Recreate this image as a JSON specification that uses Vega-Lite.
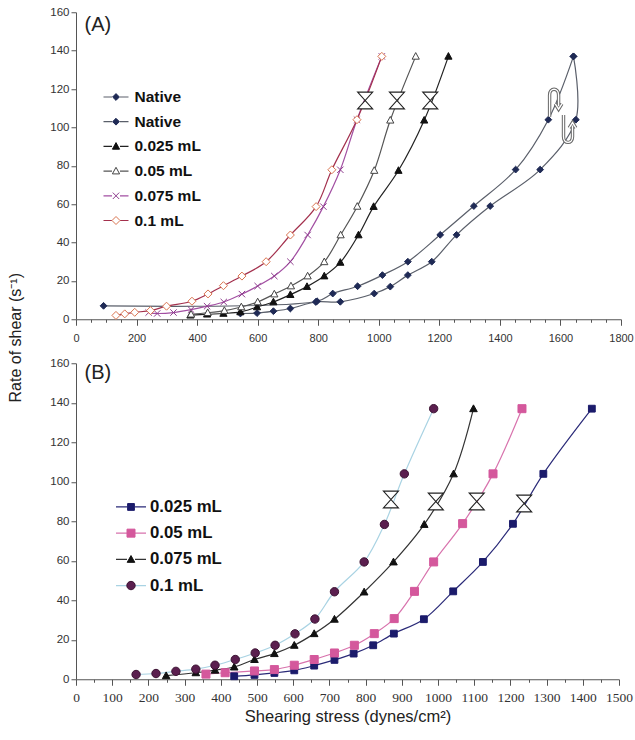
{
  "$schema": "https://vega.github.io/schema/vega-lite/v6.json",
  "autosize": {"type": "pad"},
  "padding": {"left": 7, "top": 6.25, "right": 0, "bottom": 0},
  "background": "white",
  "config": {
    "view": {"stroke": null},
    "font": "Liberation Sans",
    "axis": {"grid": false, "domainColor": "#555555", "tickColor": "#555555", "labelColor": "#333333", "labelFont": "Liberation Sans", "labelFontSize": 11.5, "titleFont": "Liberation Sans", "titleFontWeight": "normal", "titleColor": "#222222", "domainWidth": 1, "tickWidth": 1},
    "legend": {"padding": 0, "title": null},
    "title": {"font": "Liberation Sans", "fontWeight": "normal", "fontSize": 20, "color": "#222222", "anchor": "start", "frame": "group"}
  },
  "datasets": {
    "a": [
      {"s": "Native", "i": 1, "x": 91, "y": 7},
      {"s": "Native", "i": 2, "x": 796, "y": 9.4},
      {"s": "Native", "i": 3, "x": 848, "y": 13.4},
      {"s": "Native", "i": 4, "x": 930, "y": 17.2},
      {"s": "Native", "i": 5, "x": 1012, "y": 23},
      {"s": "Native", "i": 6, "x": 1096, "y": 30},
      {"s": "Native", "i": 7, "x": 1203, "y": 44},
      {"s": "Native", "i": 8, "x": 1314, "y": 59},
      {"s": "Native", "i": 9, "x": 1452, "y": 78},
      {"s": "Native", "i": 10, "x": 1560, "y": 104},
      {"s": "Native", "i": 11, "x": 1643, "y": 137},
      {"s": "Native 2", "i": 1, "x": 543, "y": 3},
      {"s": "Native 2", "i": 2, "x": 598, "y": 3.2},
      {"s": "Native 2", "i": 3, "x": 652, "y": 4.2},
      {"s": "Native 2", "i": 4, "x": 708, "y": 5.6},
      {"s": "Native 2", "i": 5, "x": 792, "y": 9},
      {"s": "Native 2", "i": 6, "x": 873, "y": 9.1},
      {"s": "Native 2", "i": 7, "x": 985, "y": 13.4},
      {"s": "Native 2", "i": 8, "x": 1038, "y": 17},
      {"s": "Native 2", "i": 9, "x": 1096, "y": 23},
      {"s": "Native 2", "i": 10, "x": 1175, "y": 30},
      {"s": "Native 2", "i": 11, "x": 1257, "y": 44},
      {"s": "Native 2", "i": 12, "x": 1368, "y": 59},
      {"s": "Native 2", "i": 13, "x": 1533, "y": 78},
      {"s": "Native 2", "i": 14, "x": 1651, "y": 104},
      {"s": "Native 2", "i": 15, "x": 1643, "y": 137},
      {"s": "0.025 mL", "i": 1, "x": 378, "y": 2.1},
      {"s": "0.025 mL", "i": 2, "x": 433, "y": 2.6},
      {"s": "0.025 mL", "i": 3, "x": 487, "y": 3.0},
      {"s": "0.025 mL", "i": 4, "x": 543, "y": 3.8},
      {"s": "0.025 mL", "i": 5, "x": 598, "y": 6.4},
      {"s": "0.025 mL", "i": 6, "x": 652, "y": 9},
      {"s": "0.025 mL", "i": 7, "x": 708, "y": 12.8},
      {"s": "0.025 mL", "i": 8, "x": 763, "y": 17},
      {"s": "0.025 mL", "i": 9, "x": 820, "y": 22.5},
      {"s": "0.025 mL", "i": 10, "x": 873, "y": 29.6},
      {"s": "0.025 mL", "i": 11, "x": 933, "y": 43.9},
      {"s": "0.025 mL", "i": 12, "x": 983, "y": 58.7},
      {"s": "0.025 mL", "i": 13, "x": 1065, "y": 77.5},
      {"s": "0.025 mL", "i": 14, "x": 1150, "y": 103.7},
      {"s": "0.025 mL", "i": 15, "x": 1230, "y": 137},
      {"s": "0.05 mL", "i": 1, "x": 380, "y": 2.6},
      {"s": "0.05 mL", "i": 2, "x": 435, "y": 3.4},
      {"s": "0.05 mL", "i": 3, "x": 490, "y": 4.5},
      {"s": "0.05 mL", "i": 4, "x": 546, "y": 6.4},
      {"s": "0.05 mL", "i": 5, "x": 600, "y": 9},
      {"s": "0.05 mL", "i": 6, "x": 655, "y": 13.1},
      {"s": "0.05 mL", "i": 7, "x": 710, "y": 17.3},
      {"s": "0.05 mL", "i": 8, "x": 765, "y": 22.5},
      {"s": "0.05 mL", "i": 9, "x": 820, "y": 29.9},
      {"s": "0.05 mL", "i": 10, "x": 874, "y": 43.9},
      {"s": "0.05 mL", "i": 11, "x": 929, "y": 58.8},
      {"s": "0.05 mL", "i": 12, "x": 985, "y": 77.5},
      {"s": "0.05 mL", "i": 13, "x": 1038, "y": 103.7},
      {"s": "0.05 mL", "i": 14, "x": 1122, "y": 137},
      {"s": "0.075 mL", "i": 1, "x": 240, "y": 3.5},
      {"s": "0.075 mL", "i": 2, "x": 268, "y": 3.0},
      {"s": "0.075 mL", "i": 3, "x": 322, "y": 3.5},
      {"s": "0.075 mL", "i": 4, "x": 380, "y": 5},
      {"s": "0.075 mL", "i": 5, "x": 433, "y": 6.8},
      {"s": "0.075 mL", "i": 6, "x": 488, "y": 9},
      {"s": "0.075 mL", "i": 7, "x": 548, "y": 13.1},
      {"s": "0.075 mL", "i": 8, "x": 600, "y": 17.3},
      {"s": "0.075 mL", "i": 9, "x": 655, "y": 22.5},
      {"s": "0.075 mL", "i": 10, "x": 708, "y": 30},
      {"s": "0.075 mL", "i": 11, "x": 765, "y": 43.9},
      {"s": "0.075 mL", "i": 12, "x": 817, "y": 58.7},
      {"s": "0.075 mL", "i": 13, "x": 873, "y": 77.9},
      {"s": "0.075 mL", "i": 14, "x": 928, "y": 104},
      {"s": "0.075 mL", "i": 15, "x": 1010, "y": 137},
      {"s": "0.1 mL", "i": 1, "x": 132, "y": 2.0},
      {"s": "0.1 mL", "i": 2, "x": 161, "y": 2.8},
      {"s": "0.1 mL", "i": 3, "x": 194, "y": 3.6},
      {"s": "0.1 mL", "i": 4, "x": 246, "y": 4.5},
      {"s": "0.1 mL", "i": 5, "x": 299, "y": 6.8},
      {"s": "0.1 mL", "i": 6, "x": 383, "y": 9.4},
      {"s": "0.1 mL", "i": 7, "x": 436, "y": 13.2},
      {"s": "0.1 mL", "i": 8, "x": 487, "y": 17.5},
      {"s": "0.1 mL", "i": 9, "x": 548, "y": 22.5},
      {"s": "0.1 mL", "i": 10, "x": 628, "y": 30},
      {"s": "0.1 mL", "i": 11, "x": 708, "y": 43.9},
      {"s": "0.1 mL", "i": 12, "x": 793, "y": 58.7},
      {"s": "0.1 mL", "i": 13, "x": 845, "y": 77.9},
      {"s": "0.1 mL", "i": 14, "x": 928, "y": 104},
      {"s": "0.1 mL", "i": 15, "x": 1010, "y": 137}
    ],
    "b": [
      {"s": "0.025 mL", "i": 1, "x": 437, "y": 1.5},
      {"s": "0.025 mL", "i": 2, "x": 493, "y": 2.2},
      {"s": "0.025 mL", "i": 3, "x": 548, "y": 3.2},
      {"s": "0.025 mL", "i": 4, "x": 603, "y": 4.5},
      {"s": "0.025 mL", "i": 5, "x": 658, "y": 6.9},
      {"s": "0.025 mL", "i": 6, "x": 714, "y": 9.8},
      {"s": "0.025 mL", "i": 7, "x": 767, "y": 13},
      {"s": "0.025 mL", "i": 8, "x": 821, "y": 17.2},
      {"s": "0.025 mL", "i": 9, "x": 878, "y": 23.1},
      {"s": "0.025 mL", "i": 10, "x": 961, "y": 30.4},
      {"s": "0.025 mL", "i": 11, "x": 1042, "y": 44.5},
      {"s": "0.025 mL", "i": 12, "x": 1124, "y": 59.4},
      {"s": "0.025 mL", "i": 13, "x": 1207, "y": 78.7},
      {"s": "0.025 mL", "i": 14, "x": 1291, "y": 104},
      {"s": "0.025 mL", "i": 15, "x": 1425, "y": 137},
      {"s": "0.05 mL", "i": 1, "x": 359, "y": 2.6},
      {"s": "0.05 mL", "i": 2, "x": 412, "y": 3.3},
      {"s": "0.05 mL", "i": 3, "x": 493, "y": 4.2},
      {"s": "0.05 mL", "i": 4, "x": 548, "y": 4.9},
      {"s": "0.05 mL", "i": 5, "x": 603, "y": 7.1},
      {"s": "0.05 mL", "i": 6, "x": 658, "y": 10},
      {"s": "0.05 mL", "i": 7, "x": 714, "y": 13.3},
      {"s": "0.05 mL", "i": 8, "x": 769, "y": 17.2},
      {"s": "0.05 mL", "i": 9, "x": 824, "y": 23.1},
      {"s": "0.05 mL", "i": 10, "x": 879, "y": 30.7},
      {"s": "0.05 mL", "i": 11, "x": 935, "y": 44.5},
      {"s": "0.05 mL", "i": 12, "x": 988, "y": 59.4},
      {"s": "0.05 mL", "i": 13, "x": 1068, "y": 78.8},
      {"s": "0.05 mL", "i": 14, "x": 1152, "y": 104},
      {"s": "0.05 mL", "i": 15, "x": 1232, "y": 137},
      {"s": "0.075 mL", "i": 1, "x": 249, "y": 1.8},
      {"s": "0.075 mL", "i": 2, "x": 331, "y": 3.3},
      {"s": "0.075 mL", "i": 3, "x": 384, "y": 4.6},
      {"s": "0.075 mL", "i": 4, "x": 437, "y": 6.2},
      {"s": "0.075 mL", "i": 5, "x": 493, "y": 10},
      {"s": "0.075 mL", "i": 6, "x": 548, "y": 13},
      {"s": "0.075 mL", "i": 7, "x": 603, "y": 17.2},
      {"s": "0.075 mL", "i": 8, "x": 658, "y": 23.1},
      {"s": "0.075 mL", "i": 9, "x": 714, "y": 30.4},
      {"s": "0.075 mL", "i": 10, "x": 796, "y": 44.2},
      {"s": "0.075 mL", "i": 11, "x": 877, "y": 59.4},
      {"s": "0.075 mL", "i": 12, "x": 962, "y": 78.4},
      {"s": "0.075 mL", "i": 13, "x": 1043, "y": 104},
      {"s": "0.075 mL", "i": 14, "x": 1098, "y": 137},
      {"s": "0.1 mL", "i": 1, "x": 166, "y": 2.4},
      {"s": "0.1 mL", "i": 2, "x": 221, "y": 2.9},
      {"s": "0.1 mL", "i": 3, "x": 276, "y": 4.0},
      {"s": "0.1 mL", "i": 4, "x": 331, "y": 5.1},
      {"s": "0.1 mL", "i": 5, "x": 384, "y": 7.1},
      {"s": "0.1 mL", "i": 6, "x": 440, "y": 10},
      {"s": "0.1 mL", "i": 7, "x": 495, "y": 13.3},
      {"s": "0.1 mL", "i": 8, "x": 550, "y": 17.2},
      {"s": "0.1 mL", "i": 9, "x": 605, "y": 23},
      {"s": "0.1 mL", "i": 10, "x": 660, "y": 30.5},
      {"s": "0.1 mL", "i": 11, "x": 714, "y": 44.3},
      {"s": "0.1 mL", "i": 12, "x": 796, "y": 59.4},
      {"s": "0.1 mL", "i": 13, "x": 852, "y": 78.4},
      {"s": "0.1 mL", "i": 14, "x": 907, "y": 104},
      {"s": "0.1 mL", "i": 15, "x": 988, "y": 137}
    ],
    "ha": [{"x": 955, "y": 114}, {"x": 1060, "y": 114}, {"x": 1170, "y": 114}],
    "hb": [{"x": 870, "y": 91}, {"x": 994, "y": 90}, {"x": 1107, "y": 90}, {"x": 1238, "y": 89}]
  },
  "spacing": 44,
  "bounds": "flush",
  "resolve": {
    "scale": {"color": "independent", "fill": "independent", "shape": "independent", "stroke": "independent"},
    "legend": {"color": "independent", "fill": "independent", "shape": "independent", "stroke": "independent"}
  },
  "vconcat": [
    {
      "width": 545,
      "height": 307,
      "title": {"text": "(A)", "offset": -29, "dx": 8.5},
      "encoding": {
        "x": {"field": "x", "type": "quantitative", "scale": {"domain": [0, 1800], "nice": false, "zero": false},
          "axis": {"title": null, "values": [0,50,100,150,200,250,300,350,400,450,500,550,600,650,700,750,800,850,900,950,1000,1050,1100,1150,1200,1250,1300,1350,1400,1450,1500,1550,1600,1650,1700,1750,1800],
            "format": "d", "labelExpr": "datum.value % 200 === 0 ? datum.label : ''", "labelOverlap": false, "labelFlush": false,
            "labelPadding": 7.5, "labelFontSize": 11,
            "tickSize": {"condition": {"test": "datum.value % 200 === 0", "value": 6}, "value": 3}}},
        "y": {"field": "y", "type": "quantitative", "scale": {"domain": [0, 160], "nice": false},
          "axis": {"values": [0,20,40,60,80,100,120,140,160], "labelOverlap": false, "tickSize": 5, "labelPadding": 2,
            "title": "Rate of shear (s⁻¹)", "titleX": -60.6, "titleY": 325, "titleAlign": "center", "titleBaseline": "middle", "titleAngle": -90, "titleFontSize": 16}}
      },
      "layer": [
        {
          "data": {"name": "a"},
          "mark": {"type": "line", "interpolate": "catmull-rom", "strokeWidth": 1.2},
          "encoding": {
            "color": {"field": "s", "type": "nominal", "sort": ["Native", "Native 2", "0.025 mL", "0.05 mL", "0.075 mL", "0.1 mL"],
              "scale": {"range": ["#5a5f6a", "#5a5f6a", "#222222", "#555555", "#a24fa2", "#a3304d"]},
              "legend": {"orient": "none", "legendX": 32.25, "legendY": 77, "labelFontSize": 15.5, "labelFontWeight": "bold", "labelFont": "Liberation Sans", "labelOpacity": 0, "labelOffset": 10.75, "rowPadding": 7.7, "symbolType": "M-2.5,0H-0.8M0.8,0H2.5", "symbolSize": 100, "symbolStrokeWidth": 1.2, "labelExpr": "datum.label == 'Native 2' ? 'Native' : datum.label"}},
            "order": {"field": "i", "type": "quantitative"}
          }
        },
        {
          "data": {"name": "a"},
          "mark": {"type": "point", "size": 64, "strokeWidth": 1, "opacity": 1},
          "encoding": {
            "fill": {"field": "s", "type": "nominal",
              "scale": {"domain": ["Native", "Native 2", "0.025 mL", "0.05 mL", "0.075 mL", "0.1 mL"], "range": ["#1f2a55", "#1f2a55", "#111111", "#ffffff", "transparent", "#ffffff"]},
              "legend": {"orient": "none", "legendX": 32.25, "legendY": 77, "labelFontSize": 15.5, "labelFontWeight": "bold", "labelFont": "Liberation Sans", "labelColor": "#111111", "labelOffset": 10.75, "rowPadding": 7.7, "symbolSize": 64, "symbolStrokeWidth": 1, "labelExpr": "datum.label == 'Native 2' ? 'Native' : datum.label"}},
            "stroke": {"field": "s", "type": "nominal",
              "scale": {"domain": ["Native", "Native 2", "0.025 mL", "0.05 mL", "0.075 mL", "0.1 mL"], "range": ["#1f2a55", "#1f2a55", "#111111", "#444444", "#8e3d8e", "#d9744f"]},
              "legend": {"orient": "none", "legendX": 32.25, "legendY": 77, "labelFontSize": 15.5, "labelFontWeight": "bold", "labelFont": "Liberation Sans", "labelColor": "#111111", "labelOffset": 10.75, "rowPadding": 7.7, "symbolSize": 64, "symbolStrokeWidth": 1, "labelExpr": "datum.label == 'Native 2' ? 'Native' : datum.label"}},
            "shape": {"field": "s", "type": "nominal",
              "scale": {"domain": ["Native", "Native 2", "0.025 mL", "0.05 mL", "0.075 mL", "0.1 mL"], "range": ["M0,-0.85L0.85,0L0,0.85L-0.85,0Z", "M0,-0.85L0.85,0L0,0.85L-0.85,0Z", "M0,-0.95L0.9,0.7L-0.9,0.7Z", "M0,-0.95L0.9,0.7L-0.9,0.7Z", "M-0.8,-0.8L0.8,0.8M-0.8,0.8L0.8,-0.8", "M0,-1L1,0L0,1L-1,0Z"]},
              "legend": {"orient": "none", "legendX": 32.25, "legendY": 77, "labelFontSize": 15.5, "labelFontWeight": "bold", "labelFont": "Liberation Sans", "labelColor": "#111111", "labelOffset": 10.75, "rowPadding": 7.7, "symbolSize": 64, "symbolStrokeWidth": 1, "labelExpr": "datum.label == 'Native 2' ? 'Native' : datum.label"}}
          }
        },
        {
          "data": {"name": "ha"},
          "mark": {"type": "point", "shape": "M-0.9,-1H0.9L-0.9,1H0.9Z", "size": 280, "filled": true, "fill": "#ffffff", "stroke": "#222222", "strokeWidth": 1.1, "opacity": 1}
        },
        {
          "data": {"values": [{"x": 1579, "y": 113}]},
          "mark": {"type": "point", "shape": "M-0.3,0.95V-0.5C-0.3,-1 0.3,-1 0.3,-0.5V0.25M0.08,0.1L0.3,0.45L0.52,0.1", "size": 900, "filled": false, "stroke": "#666666", "strokeWidth": 3.4, "opacity": 1}
        },
        {
          "data": {"values": [{"x": 1579, "y": 113}]},
          "mark": {"type": "point", "shape": "M-0.3,0.95V-0.5C-0.3,-1 0.3,-1 0.3,-0.5V0.25M0.08,0.1L0.3,0.45L0.52,0.1", "size": 900, "filled": false, "stroke": "#ffffff", "strokeWidth": 1.4, "opacity": 1}
        },
        {
          "data": {"values": [{"x": 1625, "y": 99}]},
          "mark": {"type": "point", "shape": "M-0.3,-0.95V0.5C-0.3,1 0.3,1 0.3,0.5V-0.25M0.08,-0.1L0.3,-0.45L0.52,-0.1", "size": 900, "filled": false, "stroke": "#666666", "strokeWidth": 3.4, "opacity": 1}
        },
        {
          "data": {"values": [{"x": 1625, "y": 99}]},
          "mark": {"type": "point", "shape": "M-0.3,-0.95V0.5C-0.3,1 0.3,1 0.3,0.5V-0.25M0.08,-0.1L0.3,-0.45L0.52,-0.1", "size": 900, "filled": false, "stroke": "#ffffff", "strokeWidth": 1.4, "opacity": 1}
        }
      ]
    },
    {
      "width": 543,
      "height": 316,
      "title": {"text": "(B)", "offset": -26, "dx": 8.5},
      "encoding": {
        "x": {"field": "x", "type": "quantitative", "scale": {"domain": [0, 1500], "nice": false, "zero": false},
          "axis": {"title": "Shearing stress (dynes/cm²)", "titleFontSize": 16.5, "titlePadding": 5,
            "values": [0,50,100,150,200,250,300,350,400,450,500,550,600,650,700,750,800,850,900,950,1000,1050,1100,1150,1200,1250,1300,1350,1400,1450,1500],
            "format": "d", "labelExpr": "datum.value % 100 === 0 ? datum.label : ''", "labelOverlap": false, "labelFlush": false,
            "labelPadding": 5, "labelFont": "Liberation Serif", "labelFontSize": 13.5,
            "tickSize": {"condition": {"test": "datum.value % 100 === 0", "value": 6}, "value": 3}}},
        "y": {"field": "y", "type": "quantitative", "scale": {"domain": [0, 160], "nice": false},
          "axis": {"values": [0,20,40,60,80,100,120,140,160], "labelOverlap": false, "tickSize": 5, "labelPadding": 2, "title": null}}
      },
      "layer": [
        {
          "data": {"name": "b"},
          "mark": {"type": "line", "interpolate": "catmull-rom", "strokeWidth": 1.2},
          "encoding": {
            "color": {"field": "s", "type": "nominal", "sort": ["0.025 mL", "0.05 mL", "0.075 mL", "0.1 mL"],
              "scale": {"range": ["#2a2a78", "#d873ad", "#333333", "#a9d3e3"]},
              "legend": {"orient": "none", "legendX": 46.6, "legendY": 135.3, "labelFontSize": 16.8, "labelFontWeight": "bold", "labelFont": "Liberation Sans", "labelOpacity": 0, "labelOffset": 10.6, "rowPadding": 8.2, "symbolType": "M-3,0H-0.8M0.8,0H3", "symbolSize": 100, "symbolStrokeWidth": 1.2}},
            "order": {"field": "i", "type": "quantitative"}
          }
        },
        {
          "data": {"name": "b"},
          "mark": {"type": "point", "size": 64, "strokeWidth": 1, "opacity": 1},
          "encoding": {
            "fill": {"field": "s", "type": "nominal",
              "scale": {"domain": ["0.025 mL", "0.05 mL", "0.075 mL", "0.1 mL"], "range": ["#1b1b6b", "#d4589c", "#111111", "#5b1f4f"]},
              "legend": {"orient": "none", "legendX": 46.6, "legendY": 135.3, "labelFontSize": 16.8, "labelFontWeight": "bold", "labelFont": "Liberation Sans", "labelColor": "#111111", "labelOffset": 10.6, "rowPadding": 8.2, "symbolSize": 64, "symbolStrokeWidth": 1}},
            "stroke": {"field": "s", "type": "nominal",
              "scale": {"domain": ["0.025 mL", "0.05 mL", "0.075 mL", "0.1 mL"], "range": ["#1b1b6b", "#d4589c", "#111111", "#3b1232"]},
              "legend": {"orient": "none", "legendX": 46.6, "legendY": 135.3, "labelFontSize": 16.8, "labelFontWeight": "bold", "labelFont": "Liberation Sans", "labelColor": "#111111", "labelOffset": 10.6, "rowPadding": 8.2, "symbolSize": 64, "symbolStrokeWidth": 1}},
            "shape": {"field": "s", "type": "nominal",
              "scale": {"domain": ["0.025 mL", "0.05 mL", "0.075 mL", "0.1 mL"], "range": ["M-0.85,-0.85H0.85V0.85H-0.85Z", "M-1,-1H1V1H-1Z", "M0,-0.95L0.95,0.75L-0.95,0.75Z", "M-1.05,0A1.05,1.05 0 1,0 1.05,0A1.05,1.05 0 1,0 -1.05,0Z"]},
              "legend": {"orient": "none", "legendX": 46.6, "legendY": 135.3, "labelFontSize": 16.8, "labelFontWeight": "bold", "labelFont": "Liberation Sans", "labelColor": "#111111", "labelOffset": 10.6, "rowPadding": 8.2, "symbolSize": 64, "symbolStrokeWidth": 1}}
          }
        },
        {
          "data": {"name": "hb"},
          "mark": {"type": "point", "shape": "M-0.9,-1H0.9L-0.9,1H0.9Z", "size": 280, "filled": true, "fill": "#ffffff", "stroke": "#222222", "strokeWidth": 1.1, "opacity": 1}
        }
      ]
    }
  ]
}
